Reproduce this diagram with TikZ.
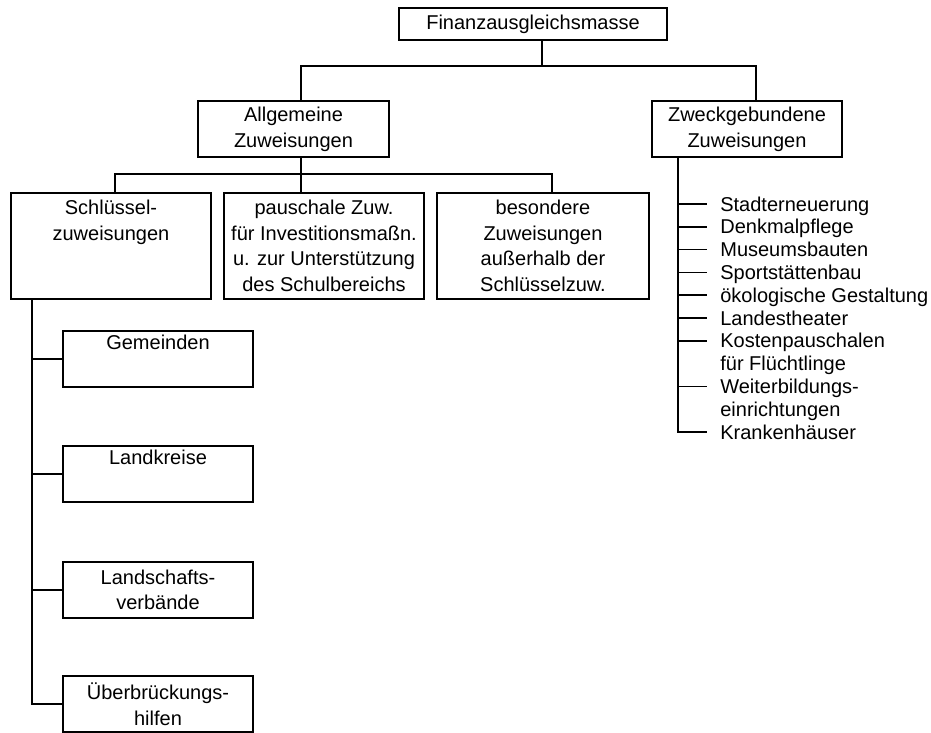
\documentclass[tikz,border=0pt]{standalone}
\usepackage{fontspec}
\setmainfont{Liberation Sans}

\begin{document}
\begin{tikzpicture}[
  x=0.6pt, y=-0.6pt,
  box/.style={draw, line width=0.9pt, align=center, inner sep=0pt, minimum height=33.6pt,
              font=\fontsize{12}{15.4}\selectfont},
  lst/.style={anchor=west, inner xsep=7.8pt, inner ysep=0pt, text height=8.4pt, text depth=0pt,
              font=\fontsize{12}{13.68}\selectfont},
  wire/.style={line width=0.9pt}
]
\useasboundingbox (0,0) rectangle (931,733);

% top levels
\node[box, minimum width=160.8pt, minimum height=19.2pt] (fam) at (533,24) {Finanzausgleichsmasse};
\node[box, minimum width=114.6pt] (allg)  at (293.5,129) {Allgemeine\\Zuweisungen};
\node[box, minimum width=114pt]   (zweck) at (747,129)   {Zweckgebundene\\Zuweisungen};

% allgemeine zuweisungen
\node[box, minimum width=120pt, minimum height=63.6pt] (schl)   at (111,246) {Schlüssel-\\zuweisungen\\\strut\\\mbox{}};
\node[box, minimum width=120pt, minimum height=63.6pt] (pausch) at (324,246) {pauschale Zuw.\\für Investitionsmaßn.\\u. zur Unterstützung\\des Schulbereichs};
\node[box, minimum width=127.2pt, minimum height=63.6pt] (bes)  at (543,246) {besondere\\Zuweisungen\\außerhalb der\\Schlüsselzuw.};

% schluesselzuweisungen
\node[box, minimum width=114pt] (gem) at (158,359) {Gemeinden\\\strut};
\node[box, minimum width=114pt] (lk)  at (158,474) {Landkreise\\\strut};
\node[box, minimum width=114pt] (lv)  at (158,590) {Landschafts-\\verbände};
\node[box, minimum width=114pt] (ueb) at (158,704) {Überbrückungs-\\hilfen};

% zweckgebundene zuweisungen
\node[lst] (s1) at (707,204)   {Stadterneuerung};
\node[lst] (s2) at (707,226.8) {Denkmalpflege};
\node[lst] (s3) at (707,249.6) {Museumsbauten};
\node[lst] (s4) at (707,272.4) {Sportstättenbau};
\node[lst] (s5) at (707,295.2) {ökologische Gestaltung};
\node[lst] (s6) at (707,318)   {Landestheater};
\node[lst] (s7) at (707,340.8) {\begin{tabular}[t]{@{}l@{}}Kostenpauschalen\\für Flüchtlinge\end{tabular}};
\node[lst] (s8) at (707,386.4) {\begin{tabular}[t]{@{}l@{}}Weiterbildungs-\\einrichtungen\end{tabular}};
\node[lst] (s9) at (707,432)   {Krankenhäuser};

% bus lines
\coordinate (b1m) at (542,66);
\coordinate (b1l) at (301,66);
\coordinate (b1r) at (756,66);
\coordinate (b2l) at (115,174);
\coordinate (b2r) at (552,174);
\coordinate (tl)  at (32,704);
\coordinate (tr)  at (678,157);

\draw[wire] (fam.south -| b1m) -- (b1m);
\draw[wire] (allg.north -| b1l) |- (b1r) -- (zweck.north -| b1r);
\draw[wire] (allg.south -| b1l) -- (pausch.north -| b1l);
\draw[wire] (schl.north -| b2l) |- (b2r) -- (bes.north -| b2r);

% left trunk
\draw[wire] (schl.south -| tl) |- (ueb.west);
\foreach \n in {gem,lk,lv}
  \draw[wire] (\n.west -| tl) -- (\n.west);

% right trunk
\draw[wire] (zweck.south -| tr) |- (s9.west);
\foreach \n in {s1,s2,s3,s4,s5,s6,s7,s8}
  \draw[wire] (\n.west -| tr) -- (\n.west);
\end{tikzpicture}
\end{document}
